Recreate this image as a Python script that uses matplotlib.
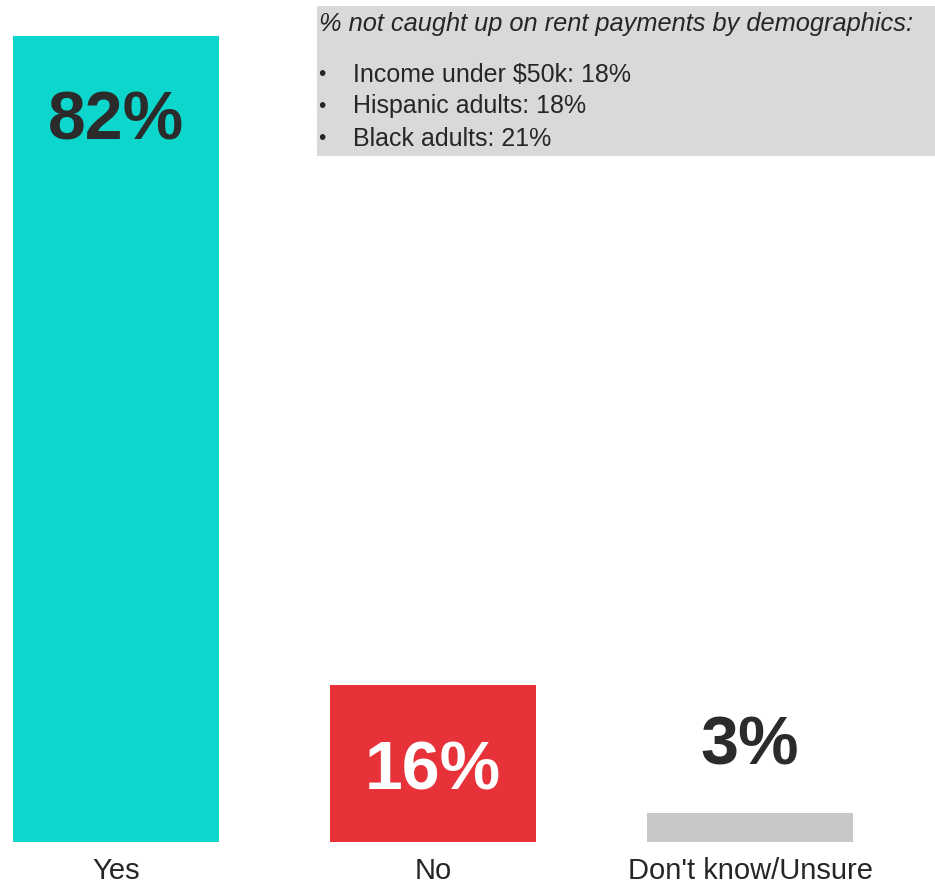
import matplotlib.pyplot as plt
from matplotlib.patches import Rectangle

categories = ["Yes", "No", "Don't know/Unsure"]
values = [82, 16, 3]
bar_colors = ["#0DD7CC", "#E8323A", "#C8C8C8"]
label_colors = ["#2B2B2B", "#FFFFFF", "#2B2B2B"]
note_title = "% not caught up on rent payments by demographics:"
note_items = ["Income under $50k: 18%", "Hispanic adults: 18%", "Black adults: 21%"]

plt.rcParams['font.family'] = ['Liberation Sans', 'DejaVu Sans']

W, H = 935, 886
fig = plt.figure(figsize=(W / 100, H / 100), dpi=100)
ax = fig.add_axes([0, 44 / H, 1, 842 / H])

x = list(range(len(categories)))
ax.bar(x, values, width=0.65, color=bar_colors)
ax.set_xlim(-116 / 317, (W - 116) / 317)
ax.set_ylim(0, 842 / (806 / 82))

# value labels (baseline positions)
ax.text(0, values[0] - 10.5, f"{values[0]}%", ha='center', va='baseline',
        fontsize=49, fontweight='bold', color=label_colors[0])
ax.text(1, 5.3, f"{values[1]}%", ha='center', va='baseline',
        fontsize=49, fontweight='bold', color=label_colors[1])
ax.text(2, values[2] + 4.9, f"{values[2]}%", ha='center', va='baseline',
        fontsize=49, fontweight='bold', color=label_colors[2])

ax.set_xticks(x)
ax.set_xticklabels(categories, fontsize=21, color='#262626')
ax.tick_params(axis='x', length=0, pad=11)
ax.set_yticks([])
for s in ax.spines.values():
    s.set_visible(False)

# note box
fig.patches.append(Rectangle((317 / W, 1 - 156 / H), (W - 317) / W, 150 / H,
                             transform=fig.transFigure, facecolor='#D9D9D9',
                             edgecolor='none', zorder=0))
fig.text(319 / W, 1 - 22 / H, note_title, fontsize=18.3, style='italic',
         color='#262626', va='center_baseline', ha='left')
for i, item in enumerate(note_items):
    yy = 1 - (72 + 32 * i) / H
    fig.text(318 / W, yy, "•", fontsize=15, color='#262626', va='center_baseline', ha='left')
    fig.text(353 / W, yy, item, fontsize=18, color='#262626', va='center_baseline', ha='left')

plt.savefig("out.png", dpi=100)
